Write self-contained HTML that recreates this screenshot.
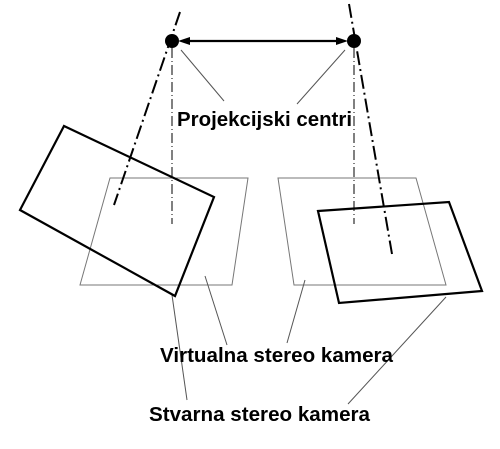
<!DOCTYPE html>
<html><head><style>body{margin:0;background:#fff}svg{display:block}</style></head><body>
<svg width="500" height="449" viewBox="0 0 500 449" xmlns="http://www.w3.org/2000/svg">
<g fill="none" stroke="#777" stroke-width="1">
<polygon points="110,178 248,178 232,285 80,285"/>
<polygon points="278,178 416,178 446,285 294,285"/>
</g>
<g fill="none" stroke="#555" stroke-width="1">
<line x1="181" y1="50" x2="224" y2="101"/>
<line x1="345" y1="50" x2="297" y2="104"/>
<line x1="172" y1="295" x2="187" y2="400"/>
<line x1="205" y1="276" x2="227" y2="345"/>
<line x1="305" y1="280" x2="287" y2="343"/>
<line x1="446" y1="297" x2="348" y2="404"/>
</g>
<g fill="none" stroke="#000" stroke-width="1" stroke-dasharray="10,3,1,3">
<line x1="172" y1="48" x2="172" y2="224"/>
<line x1="354" y1="48" x2="354" y2="224"/>
</g>
<g fill="none" stroke="#000" stroke-width="2" stroke-dasharray="14,4,2,4">
<line x1="180" y1="12" x2="114" y2="205"/>
<line x1="349" y1="4" x2="392" y2="254"/>
</g>
<g fill="none" stroke="#000" stroke-width="2.2">
<polygon points="64,126 214,197 175,296 20,210"/>
<polygon points="318,211 449,202 482,291 339,303"/>
<line x1="184" y1="41" x2="342" y2="41"/>
</g>
<polygon points="178,41 190,37 190,45" fill="#000"/>
<polygon points="348,41 336,37 336,45" fill="#000"/>
<circle cx="172" cy="41" r="7" fill="#000"/>
<circle cx="354" cy="41" r="7" fill="#000"/>
<g font-family="Liberation Sans, sans-serif" font-weight="bold" font-size="20" fill="#000">
<text x="177" y="126" textLength="175" lengthAdjust="spacingAndGlyphs">Projekcijski centri</text>
<text x="160" y="362" textLength="233" lengthAdjust="spacingAndGlyphs">Virtualna stereo kamera</text>
<text x="149" y="421" textLength="221" lengthAdjust="spacingAndGlyphs">Stvarna stereo kamera</text>
</g>
</svg>
</body></html>
